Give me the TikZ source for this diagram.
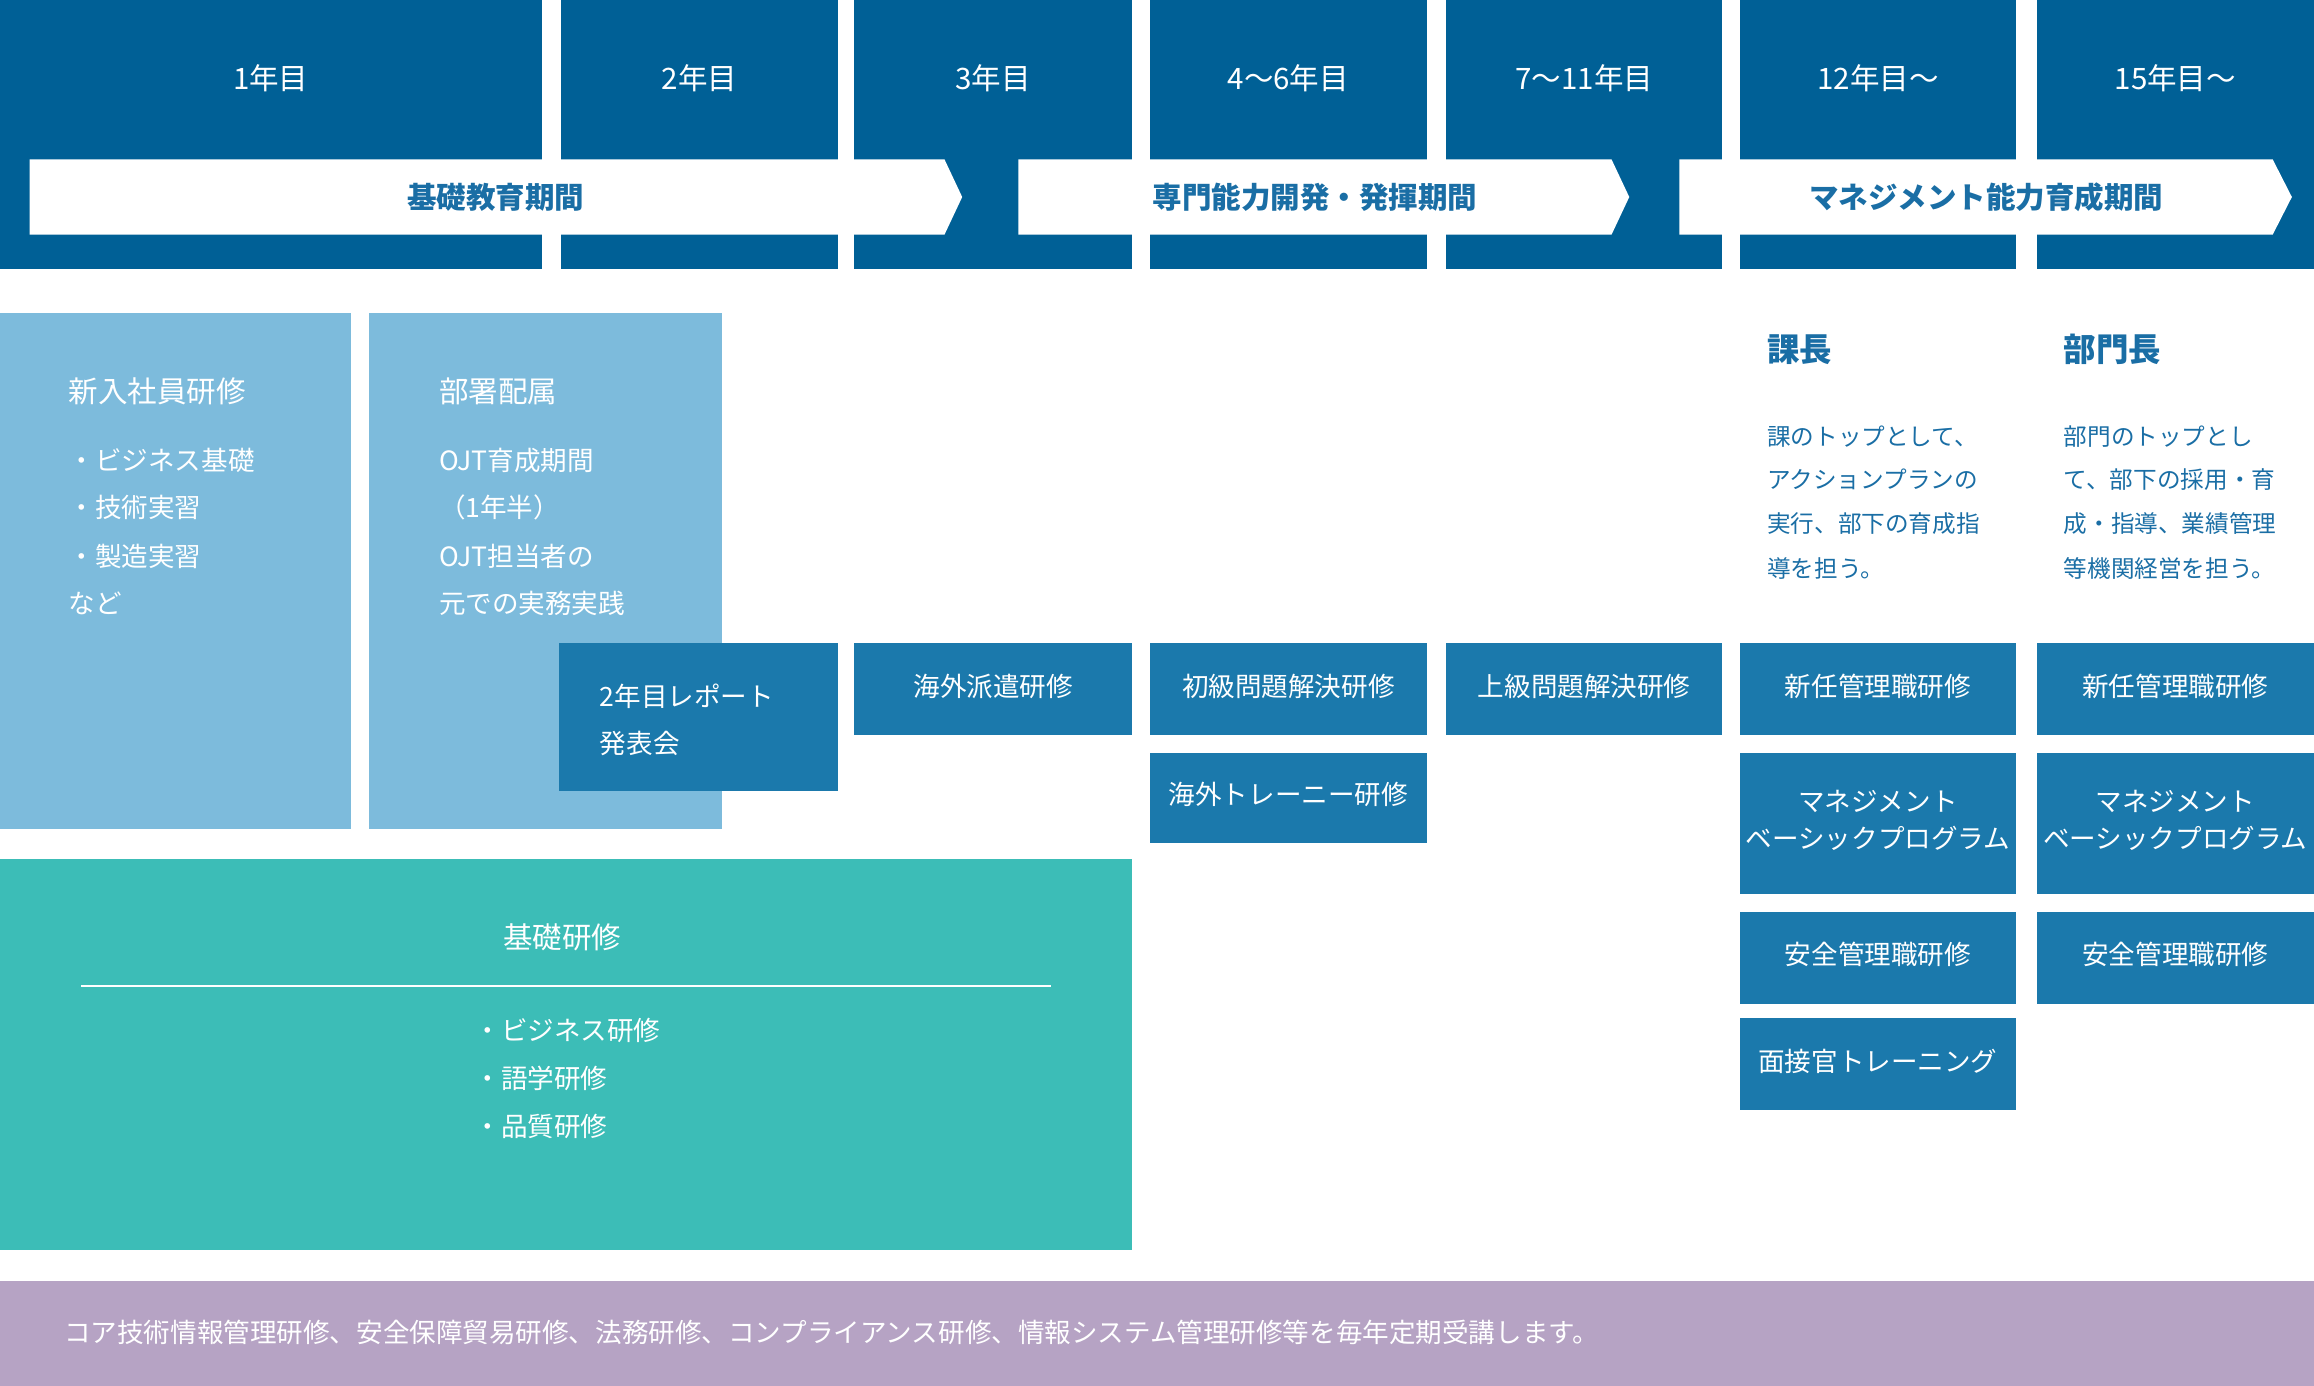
\documentclass[tikz,border=0pt]{standalone}
\usepackage{fontspec}
\setmainfont{Noto Sans CJK JP}
\definecolor{hdr}{HTML}{006096}
\definecolor{bx}{HTML}{1B79AC}
\definecolor{lb}{HTML}{7DBBDC}
\definecolor{teal}{HTML}{3CBDB7}
\definecolor{pur}{HTML}{B6A3C4}
\definecolor{txt}{HTML}{1A6EA5}
\newcommand{\fs}[1]{\fontsize{#1}{#1}\selectfont}
\begin{document}
\begin{tikzpicture}[x=1pt,y=-1pt,
  yr/.style={text=white,font=\fs{20}},
  arr/.style={fill=white},
  arrtxt/.style={text=txt,font=\fs{20}\bfseries},
  cell/.style={fill=bx},
  ct/.style={text=white,font=\fs{18},align=center},
  lt/.style={text=white,font=\fs{18},anchor=west},
  dt/.style={text=txt,font=\fs{16},anchor=west}]
\useasboundingbox (0,0) rectangle (1568,939);
% header columns
\foreach \a/\b/\t [count=\i] in {0/367/1年目,380/568/2年目,579/767/3年目,779/967/4〜6年目,980/1167/7〜11年目,1179/1366/12年目〜,1380/1568/15年目〜}{
  \fill[hdr] (\a,0) rectangle (\b,182);
  \node[yr] (y\i) at ({(\a+\b)/2},53) {\t};
}
\fill[arr] (20,108) -- (640,108) -- (652,133.5) -- (640,159) -- (20,159) -- cycle;
\fill[arr] (690,108) -- (1092,108) -- (1104,133.5) -- (1092,159) -- (690,159) -- cycle;
\fill[arr] (1138,108) -- (1540,108) -- (1553,133.5) -- (1540,159) -- (1138,159) -- cycle;
\node[arrtxt] (p1) at (336,133.5) {基礎教育期間};
\node[arrtxt] (p2) at (891,133.5) {専門能力開発・発揮期間};
\node[arrtxt] (p3) at (1346,133.5) {マネジメント能力育成期間};
% light blue
\fill[lb] (0,212) rectangle (238,562);
\fill[lb] (250,212) rectangle (489,562);
\node[lt,font=\fs{20}] (n1) at (43,265) {新入社員研修};
\node[lt] at (43,312) {・ビジネス基礎};
\node[lt] at (43,344) {・技術実習};
\node[lt] at (43,377) {・製造実習};
\node[lt] at (43,409) {など};
\node[lt,font=\fs{20}] (n2) at (294,265) {部署配属};
\node[lt] at (294,312) {OJT育成期間};
\node[lt] at (294,344) {（1年半）};
\node[lt] at (294,377) {OJT担当者の};
\node[lt] at (294,409) {元での実務実践};
\fill[bx] (379,436) rectangle (568,536);
\node[lt] (r) at (403,472) {2年目レポート};
\node[lt] at (403,504) {発表会};
% cells
\foreach \a/\b/\c/\d/\t [count=\i] in {
 579/767/436/498/海外派遣研修,
 779/967/436/498/初級問題解決研修,
 980/1167/436/498/上級問題解決研修,
 1179/1366/436/498/新任管理職研修,
 1380/1568/436/498/新任管理職研修,
 779/967/510/571/海外トレーニー研修,
 1179/1366/510/606/{マネジメント\\[7pt]ベーシックプログラム},
 1380/1568/510/606/{マネジメント\\[7pt]ベーシックプログラム},
 1179/1366/618/680/安全管理職研修,
 1380/1568/618/680/安全管理職研修,
 1179/1366/690/752/面接官トレーニング}{
  \fill[cell] (\a,\c) rectangle (\b,\d);
  \node[ct] (c\i) at ({(\a+\b)/2},{(\c+\d)/2-2}) {\t};
}
% roles
\node[text=txt,font=\fs{22}\bfseries,anchor=west] (k1) at (1194,237) {課長};
\node[dt] at (1194,296) {課のトップとして、};
\node[dt] at (1194,325) {アクションプランの};
\node[dt] at (1194,355) {実行、部下の育成指};
\node[dt] at (1194,385) {導を担う。};
\node[text=txt,font=\fs{22}\bfseries,anchor=west] (k2) at (1395,237) {部門長};
\node[dt] at (1395,296) {部門のトップとし};
\node[dt] at (1395,325) {て、部下の採用・育};
\node[dt] at (1395,355) {成・指導、業績管理};
\node[dt] at (1395,385) {等機関経営を担う。};
% teal
\fill[teal] (0,582) rectangle (767,847);
\node[ct,font=\fs{20}] (t) at (381,635) {基礎研修};
\draw[white,line width=1pt] (55,668) -- (712,668);
\node[lt] at (318,698) {・ビジネス研修};
\node[lt] at (318,731) {・語学研修};
\node[lt] at (318,763) {・品質研修};
% purple
\fill[pur] (0,868) rectangle (1568,939);
\node[lt] (f) at (40,903) {コア技術情報管理研修、安全保障貿易研修、法務研修、コンプライアンス研修、情報システム管理研修等を毎年定期受講します。};
\end{tikzpicture}
\end{document}
